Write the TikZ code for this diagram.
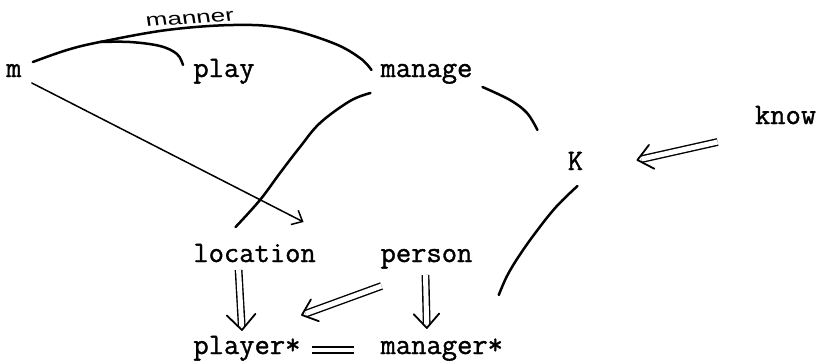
\documentclass[tikz,border=0pt]{standalone}
\usepackage{fontspec}
\setmonofont[FakeBold=1.2]{Latin Modern Mono}
\newfontfamily\handfont{Liberation Sans}
\usetikzlibrary{arrows.meta,calc}
\tikzset{
  lbl/.style={inner sep=0pt, anchor=base west, font=\ttfamily\fontsize{29.7}{30}\selectfont},
  curve/.style={line width=2.5pt, line cap=round},
  thin/.style={line width=1.5pt, line cap=round},
  dblshaft/.style={double, double distance=5pt, line width=1.4pt, shorten >=4pt},
  headv/.style={line width=1.8pt, line cap=round, line join=round},
  eq/.style={double, double distance=4pt, line width=1.7pt}
}
\begin{document}
\begin{tikzpicture}[x=1pt,y=-1pt]
\useasboundingbox (0,0) rectangle (823,360);
% nodes (typewriter columns, pitch 15.6)
\node[lbl] (m) at (6,77) {m};
\node[lbl] (play) at (193.2,77) {play};
\node[lbl] (manage) at (380.4,77) {manage};
\node[lbl] (know) at (754.8,124) {know};
\node[lbl] (K) at (567.6,170) {K};
\node[lbl] (location) at (193.2,262) {location};
\node[lbl] (person) at (380.4,262) {person};
\node[lbl] (player) at (193.2,354) {player*};
\node[lbl] (manager) at (380.4,354) {manager*};
% handwritten label
\node[inner sep=0pt, font=\handfont\fontsize{18}{18}\selectfont, xscale=1.45, rotate=6] (manner) at (190,19) {manner};
% top arc m -- manage
\coordinate (a0) at ($(m.base)+(19,-15)$);
\coordinate (a9) at ($(manage.base)+(-55,-7)$);
\coordinate (j) at (100,42);
\draw[curve] plot[smooth, tension=0.6] coordinates {(a0) (67,50) (j) (167,30) (233,25) (283,28) (333,43) (360,58) (a9)};
% branch to play
\coordinate (b9) at ($(play.base)+(-41,-12)$);
\draw[curve] plot[smooth, tension=0.6] coordinates {(j) (130,42) (160,46) (177,54) (b9)};
% m -> location
\draw[thin, -{Straight Barb[length=9pt,width=16pt]}] ($(m.base)+(18,6)$) -- ($(location.base)+(49,-40)$);
% manage -- location
\coordinate (c0) at ($(manage.base)+(-56,16)$);
\coordinate (c9) at ($(location.base)+(-19,-35)$);
\draw[curve] plot[smooth, tension=0.6] coordinates {(c0) (350,101) (320,123) (300,147) (280,173) (260,200) (c9)};
% manage -- K
\coordinate (d0) at ($(manage.base)+(56,10)$);
\coordinate (d9) at ($(K.base)+(-38,-40)$);
\draw[curve] plot[smooth, tension=0.6] coordinates {(d0) (510,100) (527,113) (d9)};
% K -- manager*
\coordinate (e0) at ($(K.base)+(2,16)$);
\coordinate (e9) at ($(manager.base)+(57,-59)$);
\draw[curve] plot[smooth, tension=0.6] coordinates {(e0) (556,207) (536,232) (519,256) (507,276) (e9)};
% double arrows: tails and tips
\coordinate (s1) at ($(know.base)+(-68,18)$);
\coordinate (t1) at ($(K.base)+(62,-10)$);
\coordinate (s2) at ($(location.base)+(-16,8)$);
\coordinate (t2) at ($(player.base)+(-5,-24)$);
\coordinate (s3) at ($(person.base)+(-45,24)$);
\coordinate (t3) at ($(player.base)+(55,-39)$);
\coordinate (s4) at ($(person.base)+(-1,13)$);
\coordinate (t4) at ($(manager.base)+(-15,-26)$);
\draw[dblshaft] (s1) -- (t1);
\draw[headv] ($(t1)!19pt!40:(s1)$) -- (t1) -- ($(t1)!19pt!-40:(s1)$);
\draw[dblshaft] (s2) -- (t2);
\draw[headv] ($(t2)!21pt!43:(s2)$) -- (t2) -- ($(t2)!21pt!-43:(s2)$);
\draw[dblshaft] (s3) -- (t3);
\draw[headv] ($(t3)!18pt!40:(s3)$) -- (t3) -- ($(t3)!18pt!-40:(s3)$);
\draw[dblshaft] (s4) -- (t4);
\draw[headv] ($(t4)!19pt!42:(s4)$) -- (t4) -- ($(t4)!19pt!-42:(s4)$);
\draw[eq] ($(player.base)+(65,-4)$) -- ($(manager.base)+(-88,-4)$);
\end{tikzpicture}
\end{document}
